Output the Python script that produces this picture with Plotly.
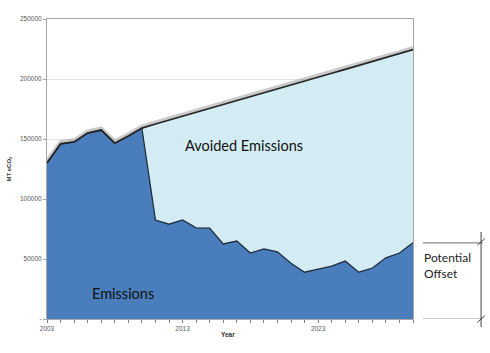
import plotly.graph_objects as go

years = list(range(2003, 2031))
emissions = [130000, 146000, 147500, 155000, 157500, 146500, 152500, 159000,
             82500, 79000, 82500, 76000, 75800, 62500, 65000, 55000, 58500,
             56000, 46500, 39000, 41500, 44000, 48300, 39000, 42500, 51000,
             55000, 63500]
bau_years = list(range(2010, 2031))
bau = [159000, 162500, 165800, 169000, 172300, 175500, 178800, 182000, 185300,
       188500, 191800, 195000, 198300, 201500, 204800, 208000, 211300, 214500,
       217800, 221000, 224500]
y_ticks = [0, 50000, 100000, 150000, 200000, 250000]
y_labels = ["-", "50000", "100000", "150000", "200000", "250000"]
x_ticks = [2003, 2013, 2023]
x_labels = ["2003", "2013", "2023"]

# upper envelope: emissions before 2010, BAU afterwards
upper_x = years[:7] + bau_years
upper_y = emissions[:7] + bau

DARK = "#4a7dbb"
LIGHT = "#d3ecf3"
shadow_off = 1400

fig = go.Figure()
fig.add_trace(go.Scatter(x=upper_x, y=upper_y, mode="lines", fill="tozeroy",
                         fillcolor=LIGHT, line=dict(color="rgba(0,0,0,0)", width=0),
                         hoverinfo="skip", showlegend=False))
# soft shadow of the top line
fig.add_trace(go.Scatter(x=upper_x, y=[v + shadow_off for v in upper_y], mode="lines",
                         line=dict(color="rgba(150,150,150,0.5)", width=4),
                         hoverinfo="skip", showlegend=False))
fig.add_trace(go.Scatter(x=years, y=emissions, mode="lines", fill="tozeroy",
                         fillcolor=DARK, line=dict(color="#1f2d3d", width=1.3),
                         hoverinfo="skip", showlegend=False))
fig.add_trace(go.Scatter(x=upper_x, y=upper_y, mode="lines",
                         line=dict(color="#262626", width=1.8),
                         hoverinfo="skip", showlegend=False))

tick_font = dict(family="Liberation Sans, Arial", size=6.5, color="#595959")
fig.update_xaxes(range=[2003, 2030], tickvals=x_ticks, ticktext=x_labels,
                 ticks="outside", ticklen=3, tickcolor="#7f7f7f",
                 minor=dict(dtick=1, tick0=2003, ticks="outside", ticklen=3,
                            tickcolor="#7f7f7f", showgrid=False),
                 showline=True, linecolor="#a6a6a6", mirror=True,
                 showgrid=False, zeroline=False, tickfont=tick_font)
fig.update_yaxes(range=[0, 250000], tickvals=y_ticks, ticktext=y_labels,
                 ticks="outside", ticklen=3, tickcolor="#a6a6a6",
                 showline=True, linecolor="#a6a6a6", mirror=True,
                 showgrid=True, gridcolor="#e3e3e3", gridwidth=1,
                 zeroline=False, tickfont=tick_font)

big = dict(family="Lato, Open Sans", size=14.5, color="#111111")
ann = [
    dict(text="Avoided Emissions", x=2017.5, y=145000, xref="x", yref="y",
         showarrow=False, font=big),
    dict(text="Emissions", x=2008.6, y=21500, xref="x", yref="y",
         showarrow=False, font=big),
    dict(text="Potential<br>Offset", x=1.025, y=0.18, xref="paper", yref="paper",
         xanchor="left", yanchor="middle", align="left", showarrow=False,
         font=dict(family="Lato, Open Sans", size=12, color="#222222")),
    dict(text="<b>MT eCO<sub>2</sub></b>", x=-0.12, y=0.5, xref="paper", yref="paper",
         textangle=-90, showarrow=False,
         font=dict(family="Liberation Sans, Arial", size=6, color="#333333")),
    dict(text="<b>Year</b>", x=0.495, y=-0.07, xref="paper", yref="paper",
         showarrow=False, font=dict(family="Liberation Sans, Arial", size=6.5, color="#333333")),
]

shapes = [
    dict(type="line", xref="paper", yref="y", x0=1.027, x1=1.19,
         y0=emissions[-1], y1=emissions[-1], line=dict(color="#8c8c8c", width=1.2)),
    dict(type="line", xref="paper", yref="y", x0=1.027, x1=1.19,
         y0=0, y1=0, line=dict(color="#8c8c8c", width=1.2)),
    dict(type="line", xref="paper", yref="paper", x0=1.186, x1=1.186,
         y0=-0.027, y1=0.29, line=dict(color="#404040", width=1)),
    dict(type="line", xref="paper", yref="paper", x0=1.176, x1=1.196,
         y0=0.246, y1=0.268, line=dict(color="#404040", width=1)),
    dict(type="line", xref="paper", yref="paper", x0=1.176, x1=1.196,
         y0=-0.011, y1=0.011, line=dict(color="#404040", width=1)),
]

fig.update_layout(width=490, height=353, margin=dict(l=47, r=77, t=19, b=34),
                  paper_bgcolor="white", plot_bgcolor="white",
                  annotations=ann, shapes=shapes, showlegend=False)
fig.write_html("out.html")
